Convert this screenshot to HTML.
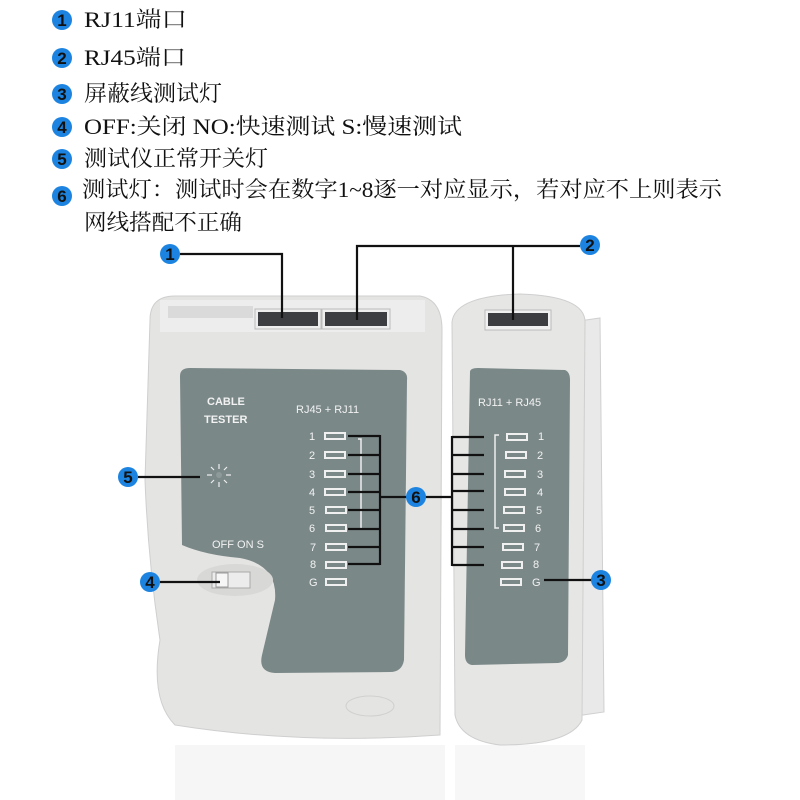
<!DOCTYPE html>
<html><head><meta charset="utf-8"><style>
body{margin:0;background:#fff}
svg{display:block}
.t{font-family:"Liberation Serif","Noto Serif CJK SC",serif;font-size:22px;fill:#111}
.c{fill:#1c84e0}
.n{font-family:"Liberation Sans",sans-serif;font-weight:bold;font-size:17px;fill:#111;text-anchor:middle}
.p{font-family:"Liberation Sans",sans-serif;font-size:11px;fill:#f2f2f2}
.l{stroke:#111;stroke-width:2.2;fill:none}
.led{fill:none;stroke:#f0f0f0;stroke-width:2}
</style></head><body>
<svg width="800" height="800" viewBox="0 0 800 800">
<g>
<circle class="c" cx="62" cy="20" r="10"/><text class="n" x="62" y="26">1</text>
<text class="t" x="84" y="27" textLength="103" lengthAdjust="spacingAndGlyphs">RJ11端口</text>
<circle class="c" cx="62" cy="58" r="10"/><text class="n" x="62" y="64">2</text>
<text class="t" x="84" y="65" textLength="102" lengthAdjust="spacingAndGlyphs">RJ45端口</text>
<circle class="c" cx="62" cy="94" r="10"/><text class="n" x="62" y="100">3</text>
<text class="t" x="84" y="101" textLength="138" lengthAdjust="spacingAndGlyphs">屏蔽线测试灯</text>
<circle class="c" cx="62" cy="127" r="10"/><text class="n" x="62" y="133">4</text>
<text class="t" x="84" y="134" textLength="378" lengthAdjust="spacingAndGlyphs">OFF:关闭  NO:快速测试  S:慢速测试</text>
<circle class="c" cx="62" cy="159" r="10"/><text class="n" x="62" y="165">5</text>
<text class="t" x="84" y="166" textLength="184" lengthAdjust="spacingAndGlyphs">测试仪正常开关灯</text>
<circle class="c" cx="62" cy="196" r="10"/><text class="n" x="62" y="202">6</text>
<text class="t" x="82" y="197" textLength="640" lengthAdjust="spacingAndGlyphs">测试灯：测试时会在数字1~8逐一对应显示，若对应不上则表示</text>
<text class="t" x="84" y="230" textLength="158" lengthAdjust="spacingAndGlyphs">网线搭配不正确</text>
</g>
<rect x="175" y="745" width="270" height="55" fill="#f6f6f6"/>
<rect x="455" y="745" width="130" height="55" fill="#f7f7f7"/>
<path d="M572 322 L600 318 L604 712 L576 716 Z" fill="#e9e9e9" stroke="#d0d0d0"/>
<path d="M150 320 Q150 296 175 296 L420 296 Q442 300 442 330 L440 735 Q300 745 175 725 Q150 700 160 640 Q148 560 145 480 Z" fill="#e4e4e2" stroke="#cfcfcf"/>
<rect x="160" y="300" width="265" height="32" fill="#ededed"/>
<rect x="168" y="306" width="85" height="12" fill="#dadada"/>
<rect x="258" y="312" width="60" height="14" fill="#3b3d40"/>
<rect x="325" y="312" width="62" height="14" fill="#3b3d40"/>
<rect x="255" y="309" width="66" height="20" fill="none" stroke="#bbb"/>
<rect x="322" y="309" width="68" height="20" fill="none" stroke="#bbb"/>
<path d="M180 376 Q180 368 190 368 L400 370 Q408 372 407 380 L404 660 Q402 672 390 672 L275 673 Q258 672 262 655 L275 600 Q278 565 240 558 Q205 555 182 545 Z" fill="#7b8888"/>
<ellipse cx="235" cy="580" rx="38" ry="16" fill="#d8d8d6"/>
<rect x="212" y="572" width="38" height="16" fill="#ececec" stroke="#aaa"/>
<rect x="216" y="573" width="12" height="14" fill="#f6f6f6" stroke="#999"/>
<ellipse cx="370" cy="706" rx="24" ry="10" fill="none" stroke="#d0d0d0"/>
<text class="p" x="207" y="405" font-weight="bold">CABLE</text>
<text class="p" x="204" y="423" font-weight="bold">TESTER</text>
<text class="p" x="296" y="413">RJ45 + RJ11</text>
<text class="p" x="212" y="548" font-size="10">OFF ON  S</text>
<g stroke="#eee" stroke-width="1.2">
<line x1="219" y1="464" x2="219" y2="469"/><line x1="219" y1="482" x2="219" y2="487"/>
<line x1="207" y1="475" x2="212" y2="475"/><line x1="226" y1="475" x2="231" y2="475"/>
<line x1="211" y1="467" x2="214" y2="470"/><line x1="224" y1="480" x2="227" y2="483"/>
<line x1="227" y1="467" x2="224" y2="470"/><line x1="211" y1="483" x2="214" y2="480"/>
</g>
<circle cx="219" cy="475" r="3" fill="#8e9999"/>
<path d="M452 322 Q455 296 520 294 Q585 296 585 322 L582 720 Q570 745 500 745 Q460 740 455 715 Z" fill="#e6e6e4" stroke="#cfcfcf"/>
<rect x="485" y="310" width="66" height="20" fill="#f0f0f0" stroke="#bbb"/>
<rect x="488" y="313" width="60" height="13" fill="#3b3d40"/>
<path d="M470 372 Q470 368 478 368 L565 370 Q570 372 570 380 L568 655 Q566 662 558 663 L472 665 Q465 664 465 655 Z" fill="#7b8888"/>
<text class="p" x="478" y="406">RJ11 + RJ45</text>
<g class="p" font-size="11">
<text x="309" y="440">1</text><text x="309" y="459">2</text><text x="309" y="478">3</text><text x="309" y="496">4</text><text x="309" y="514">5</text><text x="309" y="532">6</text><text x="310" y="551">7</text><text x="310" y="568">8</text><text x="309" y="586">G</text>
<text x="538" y="440">1</text><text x="537" y="459">2</text><text x="537" y="478">3</text><text x="537" y="496">4</text><text x="536" y="514">5</text><text x="535" y="532">6</text><text x="534" y="551">7</text><text x="533" y="568">8</text><text x="532" y="586">G</text>
</g>
<g class="led">
<rect x="325" y="433" width="20" height="6"/><rect x="325" y="452" width="20" height="6"/><rect x="325" y="471" width="20" height="6"/><rect x="325" y="489" width="20" height="6"/><rect x="326" y="507" width="20" height="6"/><rect x="326" y="525" width="20" height="6"/><rect x="326" y="544" width="20" height="6"/><rect x="326" y="562" width="20" height="6"/><rect x="326" y="579" width="20" height="6"/>
<rect x="507" y="434" width="20" height="6"/><rect x="506" y="452" width="20" height="6"/><rect x="505" y="471" width="20" height="6"/><rect x="505" y="489" width="20" height="6"/><rect x="504" y="507" width="20" height="6"/><rect x="504" y="525" width="20" height="6"/><rect x="503" y="544" width="20" height="6"/><rect x="502" y="562" width="20" height="6"/><rect x="501" y="579" width="20" height="6"/>
</g>
<path d="M358 439 L361 439 L361 529 L356 529" stroke="#eee" stroke-width="1.5" fill="none"/>
<path d="M499 435 L495 435 L495 528 L499 528" stroke="#eee" stroke-width="1.5" fill="none"/>
<g class="l">
<path d="M180 254 L282 254 L282 318"/>
<path d="M357 320 L357 246 L580 246"/><path d="M513 246 L513 320"/>
<path d="M138 477 L200 477"/>
<path d="M160 582 L220 582"/>
<path d="M348 436 L380 436 M348 455 L380 455 M348 474 L380 474 M348 492 L380 492 M348 510 L380 510 M348 529 L380 529 M348 547 L380 547 M348 564 L380 564 M380 435 L380 565 M380 497 L408 497"/>
<path d="M452 437 L484 437 M452 455 L484 455 M452 474 L484 474 M452 491 L484 491 M452 510 L484 510 M452 529 L484 529 M452 547 L484 547 M452 565 L484 565 M452 436 L452 566 M424 497 L452 497"/>
<path d="M544 580 L592 580"/>
</g>
<circle class="c" cx="170" cy="254" r="10"/><text class="n" x="170" y="260">1</text>
<circle class="c" cx="590" cy="245" r="10"/><text class="n" x="590" y="251">2</text>
<circle class="c" cx="601" cy="580" r="10"/><text class="n" x="601" y="586">3</text>
<circle class="c" cx="150" cy="582" r="10"/><text class="n" x="150" y="588">4</text>
<circle class="c" cx="128" cy="477" r="10"/><text class="n" x="128" y="483">5</text>
<circle class="c" cx="416" cy="497" r="10"/><text class="n" x="416" y="503">6</text>
</svg>
</body></html>
